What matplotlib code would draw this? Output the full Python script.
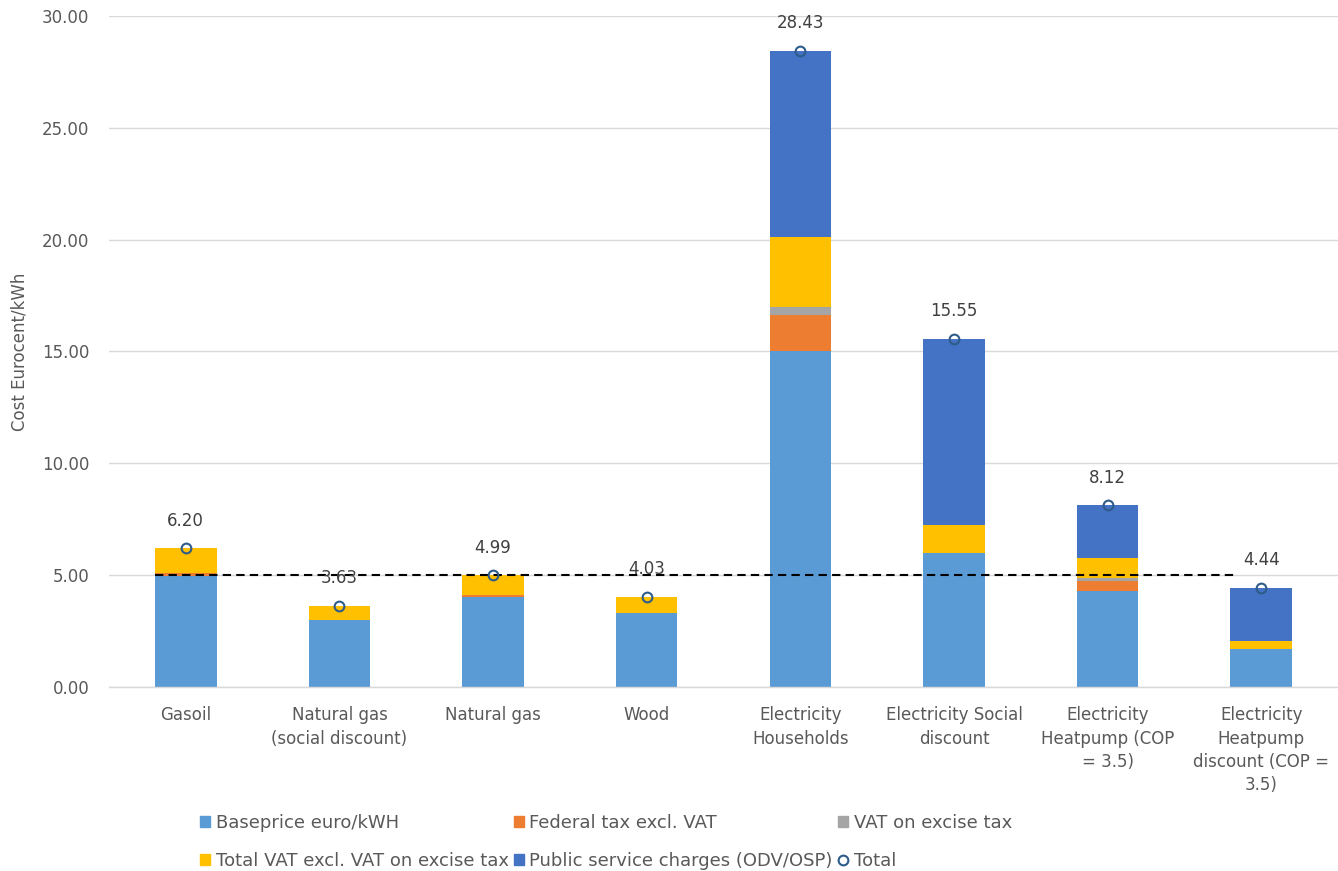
import matplotlib
matplotlib.use("Agg")
import matplotlib.pyplot as plt
import numpy as np
from matplotlib.lines import Line2D
from matplotlib.patches import Patch

categories = ["Gasoil", "Natural gas\n(social discount)", "Natural gas", "Wood",
              "Electricity\nHouseholds", "Electricity Social\ndiscount",
              "Electricity\nHeatpump (COP\n= 3.5)",
              "Electricity\nHeatpump\ndiscount (COP =\n3.5)"]
baseprice = [4.95, 3.00, 4.03, 3.33, 15.00, 6.00, 4.29, 1.71]
federal_tax = [0.15, 0.00, 0.08, 0.00, 1.63, 0.00, 0.47, 0.00]
vat_excise = [0.00, 0.00, 0.00, 0.00, 0.34, 0.00, 0.10, 0.00]
total_vat = [1.10, 0.63, 0.88, 0.70, 3.14, 1.25, 0.90, 0.36]
pso = [0.00, 0.00, 0.00, 0.00, 8.32, 8.30, 2.36, 2.37]
totals = [6.20, 3.63, 4.99, 4.03, 28.43, 15.55, 8.12, 4.44]
threshold = 5.0

series = [
    ("Baseprice euro/kWH", baseprice, "#5B9BD5"),
    ("Federal tax excl. VAT", federal_tax, "#ED7D31"),
    ("VAT on excise tax", vat_excise, "#A5A5A5"),
    ("Total VAT excl. VAT on excise tax", total_vat, "#FFC000"),
    ("Public service charges (ODV/OSP)", pso, "#4472C4"),
]

plt.rcParams['font.family'] = ['DejaVu Sans']
fig = plt.figure(figsize=(13.38, 8.71), dpi=100)
ax = fig.add_axes([109/1338, (871-687)/871, 1 - 109/1338, (687-16)/871])

x = np.arange(len(categories))
bottom = np.zeros(len(categories))
for name, vals, col in series:
    v = np.array(vals)
    ax.bar(x, v, 0.40, bottom=bottom, color=col, label=name, zorder=2)
    bottom += v

ax.plot(x, totals, linestyle='none', marker='o', markersize=7, markerfacecolor='none',
        markeredgecolor='#2E5C8A', markeredgewidth=1.5, zorder=4, label='Total')
for xi, t in zip(x, totals):
    ax.annotate(f"{t:.2f}", (xi, t), xytext=(0, 20), textcoords='offset points',
                ha='center', va='center', fontsize=12, color='#404040', zorder=5)

ax.hlines(threshold, -0.2, 6.82, colors='black', linestyles=(0, (4, 2.5)), linewidth=1.5, zorder=3)

ax.set_xlim(-0.5, 7.5)
ax.set_ylim(0, 30)
ax.set_yticks(np.arange(0, 30.01, 5))
ax.set_yticklabels([f"{v:.2f}" for v in np.arange(0, 30.01, 5)])
ax.set_xticks(x)
ax.set_xticklabels(categories, linespacing=1.38, va='top')
ax.tick_params(axis='both', length=0, labelsize=12, labelcolor='#595959')
ax.tick_params(axis='y', pad=14)
ax.tick_params(axis='x', pad=14)
ax.grid(axis='y', color='#D9D9D9', linewidth=1, zorder=0)
ax.set_axisbelow(True)
for s in ['top', 'right', 'left']:
    ax.spines[s].set_visible(False)
ax.spines['bottom'].set_color('#D9D9D9')
ax.spines['bottom'].set_linewidth(1)
ax.set_ylabel("Cost Eurocent/kWh", fontsize=12, color='#595959', labelpad=10)

handles = [Patch(color=c, label=n) for n, _, c in series]
handles.append(Line2D([], [], linestyle='none', marker='o', markersize=7, markerfacecolor='none',
                      markeredgecolor='#2E5C8A', markeredgewidth=1.5, label='Total'))
order = [0, 3, 1, 4, 2, 5]
leg = fig.legend([handles[i] for i in order], [handles[i].get_label() for i in order],
                 ncol=3, loc='center', bbox_to_anchor=(606/1338, 1 - 842/871),
                 frameon=False, fontsize=13, handlelength=0.55, handleheight=0.55,
                 handletextpad=0.3, columnspacing=0.3, labelspacing=1.1,
                 labelcolor='#595959')

fig.savefig("out.png", dpi=100)
